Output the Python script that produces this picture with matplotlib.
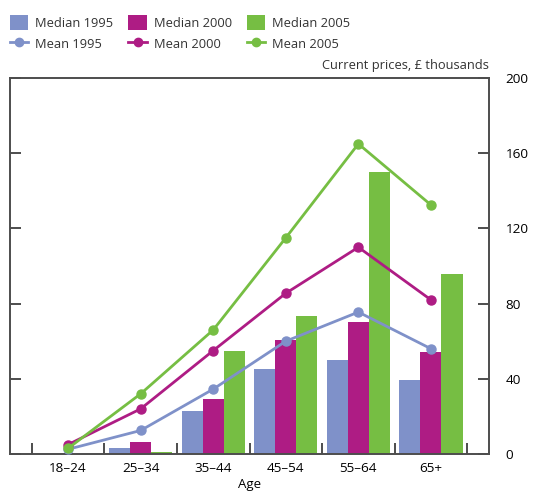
import numpy as np
import matplotlib.pyplot as plt
from matplotlib.patches import Patch
from matplotlib.lines import Line2D

plt.rcParams["font.family"] = ["Open Sans", "DejaVu Sans"]
plt.rcParams["font.size"] = 9.5
plt.rcParams["text.color"] = "#333333"

ages = ["18–24", "25–34", "35–44", "45–54", "55–64", "65+"]
years = ["1995", "2000", "2005"]

median_1995 = [0, 3, 23, 45, 50, 39.5]
median_2000 = [0, 6.5, 29, 60.5, 70, 54]
median_2005 = [0, 1, 55, 73.5, 150, 95.5]

mean_1995 = [2.5, 12.5, 34.5, 60, 75.5, 56]
mean_2000 = [5, 24, 55, 85.5, 110, 82]
mean_2005 = [3, 32, 66, 115, 165, 132.5]

colours = ["#7f91c9", "#ae1c84", "#76be43"]

medians = [median_1995, median_2000, median_2005]
means = [mean_1995, mean_2000, mean_2005]


def main():
    fig = plt.figure(figsize=(5.36, 4.91), dpi=100)
    ax = fig.add_axes([0.0187, 0.0754, 0.8936, 0.7656])

    x = np.arange(len(ages))
    w = 0.29
    for j, (vals, c) in enumerate(zip(medians, colours)):
        ax.bar(x + (j - 1) * w, vals, width=w, color=c, zorder=2)
    for vals, c in zip(means, colours):
        ax.plot(x, vals, color=c, lw=2, marker="o", ms=6.5, zorder=3)

    ax.set_xlim(-0.8, 5.8)
    ax.set_ylim(0, 200)

    for s in ax.spines.values():
        s.set_color("#4d4d4d")
        s.set_linewidth(1.4)

    ax.set_xticks(x)
    ax.set_xticklabels(ages)
    ax.set_xticks(np.arange(-0.5, 6, 1), minor=True)
    ax.tick_params(axis="x", which="major", length=0, pad=6, labelsize=9.7)
    ax.tick_params(axis="x", which="minor", direction="in", length=8,
                   width=1.4, color="#4d4d4d")

    ax.set_yticks(np.arange(0, 201, 40))
    ax.tick_params(axis="y", direction="in", left=True, right=True,
                   labelleft=False, labelright=True, length=8, width=1.4,
                   color="#4d4d4d", pad=12, labelsize=9.7)

    ax.set_xlabel("Age", labelpad=2, fontsize=9.5)
    ax.text(1.0, 1.015, "Current prices, £ thousands", transform=ax.transAxes,
            ha="right", va="bottom", fontsize=9.3)

    handles = []
    for yr, c in zip(years, colours):
        handles.append(Patch(facecolor=c, label=f"Median {yr}"))
        handles.append(Line2D([], [], color=c, lw=2, marker="o", ms=6,
                              label=f"Mean {yr}"))
    fig.legend(handles=handles, ncol=3, loc="upper left",
               bbox_to_anchor=(0.018, 0.969), frameon=False, fontsize=9.3,
               handlelength=1.4, handleheight=1.4, handletextpad=0.55,
               columnspacing=1.2, labelspacing=0.5, borderaxespad=0,
               borderpad=0)

    plt.savefig("out.png")


if __name__ == "__main__":
    main()
